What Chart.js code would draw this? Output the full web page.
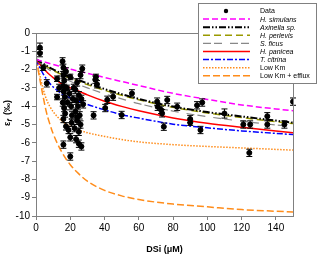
<!DOCTYPE html>
<html>
<head>
<meta charset="utf-8">
<script src="https://cdn.jsdelivr.net/npm/chart.js@4"></script>
<style>
  body { margin: 0; background: #fff; }
  canvas { display: block; }
</style>
</head>
<body>
<canvas id="siChart" width="320" height="255"></canvas>
<script>
// measured points (DSi, epsilon, error)
const dataX = [2.3, 2.3, 4.2, 6.3, 12.3, 12.3, 13.5,
  15.5, 16, 16, 16.5, 15.8, 16.2, 16.8, 15.6, 16.4, 17, 16, 17.5, 16, 18, 18.5, 17.5,
  19, 20, 20, 20, 19.5, 20.5, 21, 21.5, 20.8, 22,
  23.4, 25, 26.5, 27, 26, 24, 23, 25, 23.5, 26.5, 24.5, 23, 25.5, 24, 26, 22.5, 25, 24, 27.5,
  33.6, 34.6, 35.6, 35, 40.4, 41.6, 45, 50, 56,
  70.7, 71, 73.6, 74.6, 76.6, 73, 82.4, 90, 90, 94, 97, 96, 110, 121, 125, 124.5, 135, 135, 145, 150];
const dataY = [-0.8, -1.1, -1.9, -2.75, -2.5, -3.5, -3.0,
  -1.55, -1.9, -2.3, -2.6, -2.9, -3.2, -3.5, -3.8, -4.1, -4.4, -4.7, -5.1, -6.1, -3.0, -3.8, -2.1,
  -5.3, -5.7, -6.75, -2.4, -3.3, -4.0, -4.5, -3.6, -4.9, -3.0,
  -5.8, -6.05, -6.2, -1.95, -2.3, -2.7, -3.1, -3.4, -3.7, -3.6, -4.0, -4.3, -4.5, -4.8, -5.0, -5.2, -5.4, -4.6, -3.9,
  -4.5, -2.55, -2.8, -2.4, -4.1, -3.65, -3.48, -4.48, -3.3,
  -3.75, -4.03, -4.39, -5.12, -3.66, -4.2, -4.03, -4.7, -4.9, -3.95, -3.8, -5.3, -4.4, -5.0, -5.0, -6.55, -4.55, -5.0, -5.0, -3.75];
const dataErr = [0.25, 0.2, 0.15, 0.2, 0.15, 0.15, 0.2,
  0.2, 0.2, 0.2, 0.2, 0.2, 0.2, 0.2, 0.2, 0.2, 0.2, 0.2, 0.2, 0.2, 0.15, 0.2, 0.2,
  0.2, 0.2, 0.2, 0.15, 0.2, 0.2, 0.2, 0.2, 0.2, 0.2,
  0.2, 0.2, 0.2, 0.2, 0.2, 0.2, 0.2, 0.2, 0.2, 0.2, 0.2, 0.2, 0.2, 0.2, 0.2, 0.2, 0.2, 0.2, 0.2,
  0.2, 0.2, 0.2, 0.15, 0.2, 0.2, 0.2, 0.2, 0.2,
  0.2, 0.2, 0.2, 0.2, 0.2, 0.2, 0.2, 0.2, 0.15, 0.2, 0.2, 0.2, 0.25, 0.2, 0.2, 0.2, 0.2, 0.2, 0.2, 0.2];

// model curves
const curveX = [0, 2, 4, 6, 8, 10, 15, 20, 25, 30, 40, 50, 60, 80, 100, 120, 150];
const simulans = [-1.45, -1.5, -1.55, -1.61, -1.67, -1.72, -1.85, -1.97, -2.09, -2.2, -2.43, -2.65, -2.87, -3.3, -3.63, -3.93, -4.25];
const axinella = [-1.42, -1.55, -1.67, -1.78, -1.89, -1.99, -2.21, -2.41, -2.58, -2.75, -3.06, -3.34, -3.6, -4.02, -4.32, -4.56, -4.9];
const perlevis = [-1.42, -1.57, -1.7, -1.82, -1.93, -2.04, -2.27, -2.47, -2.65, -2.82, -3.13, -3.4, -3.65, -4.06, -4.37, -4.62, -4.95];
const ficus = [-1.42, -1.6, -1.76, -1.9, -2.03, -2.15, -2.42, -2.64, -2.83, -3.0, -3.32, -3.6, -3.86, -4.27, -4.57, -4.82, -5.12];
const panicea = [-1.42, -1.68, -1.9, -2.1, -2.28, -2.44, -2.78, -3.0, -3.18, -3.38, -3.73, -4.01, -4.25, -4.64, -4.93, -5.15, -5.45];
const citrina = [-1.42, -1.85, -2.2, -2.5, -2.75, -2.95, -3.32, -3.55, -3.72, -3.9, -4.2, -4.46, -4.65, -4.98, -5.18, -5.35, -5.55];
const lowKm = [-1.4, -2.2, -3.0, -3.6, -4.0, -4.3, -4.8, -5.1, -5.3, -5.45, -5.65, -5.82, -5.95, -6.1, -6.2, -6.28, -6.4];
const lowKmEfflux = [-1.4, -2.4, -3.4, -4.3, -4.95, -5.5, -6.5, -7.2, -7.7, -8.1, -8.6, -8.9, -9.1, -9.35, -9.5, -9.65, -9.78];

const xTicks = [0, 20, 40, 60, 80, 100, 120, 140];

const pts = (xs, ys) => xs.map((x, i) => ({ x, y: ys[i] }));

function curve(label, ys, color, dash, width, italic) {
    return {
        type: "line",
        label,
        data: pts(curveX, ys),
        borderColor: color,
        borderDash: dash,
        borderWidth: width,
        pointRadius: 0,
        cubicInterpolationMode: "monotone",
        fill: false,
        italic
    };
}

const axisGray = "#808080";

const extras = {
    id: "extras",
    beforeDatasetDraw(chart, args) {
        if (args.index !== 0) return;
        const ctx = chart.ctx;
        const xs = chart.scales.x, ys = chart.scales.y;
        ctx.save();
        ctx.strokeStyle = "#000";
        ctx.lineWidth = 1;
        dataX.forEach((x, i) => {
            const px = xs.getPixelForValue(x);
            const top = ys.getPixelForValue(dataY[i] + dataErr[i]);
            const bot = ys.getPixelForValue(dataY[i] - dataErr[i]);
            ctx.beginPath();
            ctx.moveTo(px, top); ctx.lineTo(px, bot);
            ctx.moveTo(px - 3, top); ctx.lineTo(px + 3, top);
            ctx.moveTo(px - 3, bot); ctx.lineTo(px + 3, bot);
            ctx.stroke();
        });
        ctx.restore();
    },
    afterDraw(chart) {
        const ctx = chart.ctx;
        const a = chart.chartArea;
        ctx.save();
        // frame
        ctx.strokeStyle = axisGray;
        ctx.lineWidth = 1;
        ctx.strokeRect(a.left + 0.5, a.top + 0.5, a.right - a.left, a.bottom - a.top);

        // legend box
        const bx = 198.5, by = 3.5, bw = 118, bh = 80;
        ctx.fillStyle = "#fff";
        ctx.fillRect(bx, by, bw, bh);
        ctx.strokeStyle = axisGray;
        ctx.strokeRect(bx, by, bw, bh);
        chart.data.datasets.forEach((ds, i) => {
            const y = 11 + i * 8.1;
            if (i === 0) {
                ctx.fillStyle = "#000";
                ctx.beginPath();
                ctx.arc(226, y, 2.2, 0, Math.PI * 2);
                ctx.fill();
            } else {
                ctx.strokeStyle = ds.borderColor;
                ctx.lineWidth = ds.borderWidth;
                ctx.setLineDash(ds.borderDash || []);
                ctx.beginPath();
                ctx.moveTo(203, y); ctx.lineTo(250, y);
                ctx.stroke();
                ctx.setLineDash([]);
            }
            ctx.fillStyle = "#000";
            ctx.font = (ds.italic ? "italic " : "") + "7px 'Liberation Sans', Arial, sans-serif";
            ctx.textBaseline = "middle";
            ctx.textAlign = "left";
            ctx.fillText(ds.label, 260, y + 0.5);
        });

        // y title
        ctx.translate(8, 113);
        ctx.rotate(-Math.PI / 2);
        ctx.fillStyle = "#000";
        ctx.textBaseline = "middle";
        ctx.textAlign = "left";
        ctx.font = "bold 9px 'Liberation Sans', Arial, sans-serif";
        const w1 = ctx.measureText("ε").width;
        const total = w1 + 4 + ctx.measureText(" (‰)").width;
        let x0 = -total / 2;
        ctx.fillText("ε", x0, 0);
        ctx.font = "italic bold 7px 'Liberation Sans', Arial, sans-serif";
        ctx.fillText("f", x0 + w1, 2);
        ctx.font = "bold 9px 'Liberation Sans', Arial, sans-serif";
        ctx.fillText(" (‰)", x0 + w1 + 4, 0);
        ctx.restore();
    }
};

const tickFont = { family: "'Liberation Sans', Arial, sans-serif", size: 10 };

new Chart(document.getElementById("siChart"), {
    data: {
        datasets: [
            {
                type: "scatter",
                label: "Data",
                data: pts(dataX, dataY),
                backgroundColor: "#000",
                borderColor: "#000",
                pointRadius: 2.5,
                pointHoverRadius: 2.5
            },
            curve("H. simulans", simulans, "#ff00ff", [6, 3], 1.5, true),
            curve("Axinella sp.", axinella, "#000000", [7, 2, 1.5, 2, 1.5, 2], 2, true),
            curve("H. perlevis", perlevis, "#999900", [7, 4], 1.5, true),
            curve("S. ficus", ficus, "#888888", [8, 3, 8, 8], 1.2, true),
            curve("H. panicea", panicea, "#ff0000", [], 1.5, true),
            curve("T. citrina", citrina, "#0000ff", [6, 2, 2, 2], 1.5, true),
            curve("Low Km", lowKm, "#ff8c1a", [1.5, 1.5], 1.5, false),
            curve("Low Km + efflux", lowKmEfflux, "#ff8c1a", [7, 3], 1.5, false)
        ]
    },
    options: {
        responsive: false,
        animation: false,
        devicePixelRatio: 1,
        layout: { padding: { top: 33, right: 27, left: 0, bottom: 0 } },
        plugins: { legend: { display: false }, tooltip: { enabled: false } },
        scales: {
            x: {
                type: "linear",
                min: 0,
                max: 150,
                afterFit: s => { s.height = 39; },
                afterBuildTicks: s => { s.ticks = xTicks.map(v => ({ value: v })); },
                ticks: { font: tickFont, color: "#000", padding: 2, maxRotation: 0 },
                grid: { drawOnChartArea: false, tickLength: 4, color: axisGray },
                border: { color: axisGray },
                title: {
                    display: true,
                    text: "DSi (μM)",
                    color: "#000",
                    font: { family: "'Liberation Sans', Arial, sans-serif", size: 9, weight: "bold" },
                    padding: 0
                }
            },
            y: {
                min: -10,
                max: 0,
                afterFit: s => { s.width = 36; },
                ticks: { stepSize: 1, font: tickFont, color: "#000", padding: 2 },
                grid: { drawOnChartArea: false, tickLength: 4, color: axisGray },
                border: { color: axisGray }
            }
        }
    },
    plugins: [extras]
});
</script>
</body>
</html>
